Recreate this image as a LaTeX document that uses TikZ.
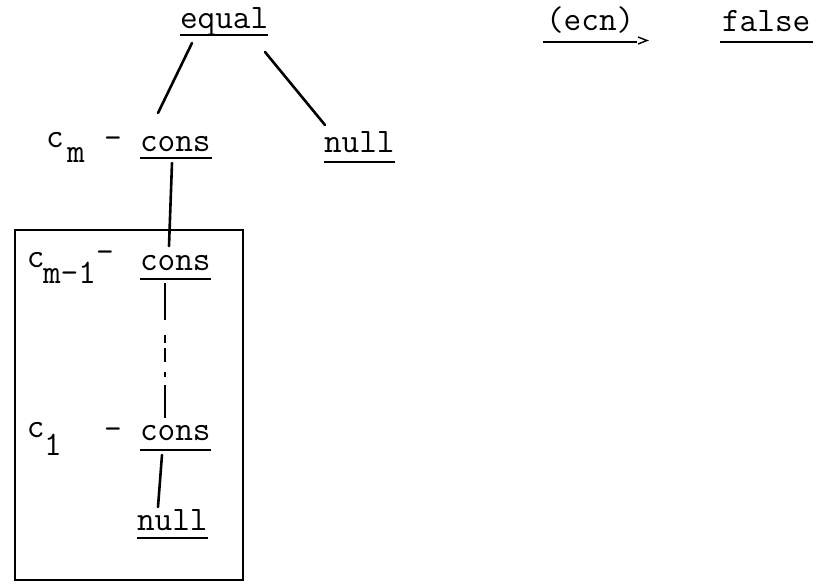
\documentclass[tikz,border=0pt]{standalone}
\usepackage{fontspec}
\usetikzlibrary{calc}
\tikzset{
  tw/.style={inner sep=0pt, outer sep=0pt, anchor=base west, font=\ttfamily\fontsize{34.3}{34.3}\selectfont},
  conn/.style={line width=2.6pt, line cap=round},
  ul/.style={line width=1.4pt},
  frame/.style={line width=2pt},
}
\begin{document}
\begin{tikzpicture}[x=1pt, y=-1pt]
\useasboundingbox (0,0) rectangle (819,584);
% top row
\node[tw] (equal) at (180,28) {equal};
\node[tw] (ecn) at (546,30) {(ecn)};
\node[tw] (false) at (722,31) {false};
% second row
\node[tw] (cm) at (46,147) {c};
\node[tw] (cmsub) at (67,162) {m};
\node[tw] (dash1) at (104,148) {-};
\node[tw] (cons1) at (140,151) {cons};
\node[tw] (null1) at (324,152) {null};
% box contents
\node[tw] (cmm) at (27,267) {c};
\node[tw] (cmmsub) at (43,283) {m-1};
\node[tw] (dash2) at (96,262) {-};
\node[tw] (cons2) at (140,270) {cons};
\node[tw] (c1) at (27,437) {c};
\node[tw] (c1sub) at (44,455) {1};
\node[tw] (dash3) at (104,439) {-};
\node[tw] (cons3) at (140,440) {cons};
\node[tw] (null2) at (137,530) {null};
% underlines
\draw[ul] ([shift={(0,7)}]equal.base west) -- ([shift={(0,7)}]equal.base east);
\draw[ul] ([shift={(-3,12)}]ecn.base west) -- ([shift={(3,12)}]ecn.base east);
\draw[ul] (638,37) -- (647,40.5) -- (638,44);
\draw[ul] ([shift={(-2,11)}]false.base west) -- ([shift={(3,11)}]false.base east);
\draw[ul] ([shift={(0,7)}]cons1.base west) -- ([shift={(1,7)}]cons1.base east);
\draw[ul] ([shift={(0,10)}]null1.base west) -- ([shift={(0,10)}]null1.base east);
\draw[ul] ([shift={(0,9)}]cons2.base west) -- ([shift={(0,9)}]cons2.base east);
\draw[ul] ([shift={(0,10)}]cons3.base west) -- ([shift={(0,10)}]cons3.base east);
\draw[ul] ([shift={(0,8)}]null2.base west) -- ([shift={(0,8)}]null2.base east);
% frame
\draw[frame] (15,230) rectangle (243,580);
% connectors
\draw[conn] ([shift={(12,15)}]equal.base west) -- ([shift={(18,-38)}]cons1.base west);
\draw[conn] ([shift={(85,24)}]equal.base west) -- ([shift={(1,-27)}]null1.base west);
\draw[conn] ([shift={(32,12)}]cons1.base west) -- ([shift={(29,-24)}]cons2.base west);
\draw[conn, line cap=butt, dash pattern={on 37pt off 15pt on 8pt off 5pt on 14pt off 10pt on 5pt off 8pt on 60pt}] ([shift={(25,13)}]cons2.base west) -- ([shift={(25,-22)}]cons3.base west);
\draw[conn] ([shift={(22,15)}]cons3.base west) -- ([shift={(21,-23)}]null2.base west);
\end{tikzpicture}
\end{document}
